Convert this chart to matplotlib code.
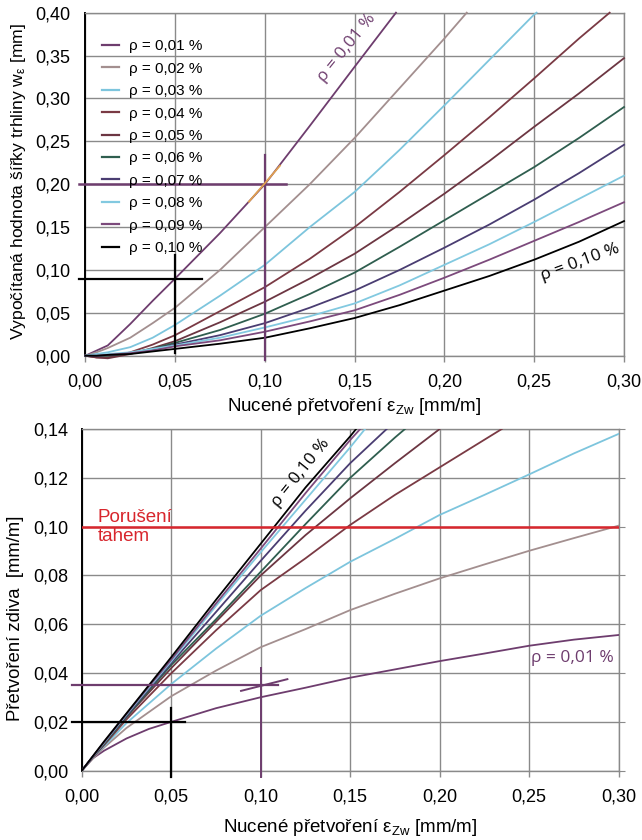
import numpy as np
import matplotlib
matplotlib.use('Agg')
import matplotlib.pyplot as plt
from matplotlib.ticker import FuncFormatter, MultipleLocator

plt.rcParams['font.family'] = ['Liberation Sans', 'DejaVu Sans']
plt.rcParams['mathtext.fontset'] = 'custom'
plt.rcParams['mathtext.rm'] = 'Liberation Sans'
plt.rcParams['mathtext.it'] = 'Liberation Sans:italic'
plt.rcParams['mathtext.default'] = 'regular'

nan = np.nan

# imposed strain eps_Zw [mm/m]
eps_grid = [0.0, 0.00625, 0.0125, 0.025, 0.0375, 0.05, 0.075, 0.10, 0.125, 0.15,
            0.175, 0.20, 0.225, 0.25, 0.275, 0.30]

rho_labels = ['0,01', '0,02', '0,03', '0,04', '0,05', '0,06', '0,07', '0,08', '0,09', '0,10']
rho_colors = ['#6e3d6e', '#a38f8f', '#7dc5dd', '#7a3a44', '#6c3642', '#2f5e4f',
              '#4a3d72', '#82c9e0', '#7c4a7c', '#000000']

# calculated crack width w_eps [mm]
w_001 = [0, 0.006, 0.012, 0.037, 0.064, 0.090, 0.143, 0.200, 0.268, 0.337, nan, nan, nan, nan, nan, nan]
w_002 = [0, 0.004, 0.009, 0.021, 0.038, 0.056, 0.100, 0.150, 0.200, 0.254, 0.312, 0.370, nan, nan, nan, nan]
w_003 = [0, 0.002, 0.004, 0.010, 0.021, 0.036, 0.070, 0.106, 0.150, 0.191, 0.240, 0.292, 0.345, 0.398, nan, nan]
w_004 = [0, -0.002, -0.002, 0.004, 0.013, 0.024, 0.052, 0.080, 0.113, 0.150, 0.191, 0.234, 0.278, 0.3235, 0.370, nan]
w_005 = [0, -0.002, -0.003, 0.002, 0.009, 0.017, 0.039, 0.063, 0.090, 0.119, 0.153, 0.189, 0.227, 0.267, 0.306, 0.347]
w_006 = [0, 0.000, 0.000, 0.003, 0.008, 0.015, 0.030, 0.049, 0.072, 0.097, 0.127, 0.158, 0.189, 0.220, 0.254, 0.290]
w_007 = [0, 0.000, 0.001, 0.003, 0.007, 0.013, 0.024, 0.038, 0.056, 0.076, 0.100, 0.126, 0.153, 0.182, 0.213, 0.246]
w_008 = [0, 0.001, 0.002, 0.004, 0.008, 0.012, 0.021, 0.033, 0.046, 0.061, 0.082, 0.106, 0.130, 0.156, 0.183, 0.210]
w_009 = [0, 0.000, 0.001, 0.003, 0.006, 0.011, 0.018, 0.028, 0.040, 0.053, 0.071, 0.091, 0.112, 0.134, 0.156, 0.179]
w_010 = [0, 0.000, 0.001, 0.002, 0.005, 0.008, 0.014, 0.021, 0.032, 0.044, 0.059, 0.076, 0.093, 0.112, 0.133, 0.157]
# strain at which a curve leaves the top of the crack-width plot (w = 0.40)
w_exit_eps = [0.173, 0.2124, 0.2513, 0.292, None, None, None, None, None, None]

# masonry strain [mm/m]
s_001 = [0, 0.0051, 0.0082, 0.0132, 0.0171, 0.020, 0.0256, 0.0301, 0.034, 0.0381, 0.0415, 0.0449, 0.048, 0.0512, 0.0537, 0.0556]
s_002 = [0, 0.0050, 0.0095, 0.0175, 0.024, 0.0305, 0.041, 0.0506, 0.058, 0.0658, 0.0725, 0.0788, 0.0845, 0.0901, 0.0953, 0.1004]
s_003 = [0, 0.0055, 0.010, 0.0195, 0.0275, 0.0355, 0.050, 0.0635, 0.0748, 0.0856, 0.095, 0.1048, 0.113, 0.1214, 0.130, 0.138]
s_004 = [0, 0.0055, 0.0105, 0.021, 0.0305, 0.0399, 0.0575, 0.074, 0.087, 0.1007, 0.113, 0.1243, nan, nan, nan, nan]
s_005 = [0, 0.0056, 0.011, 0.022, 0.032, 0.042, 0.061, 0.080, 0.0965, 0.1116, 0.126, 0.140, nan, nan, nan, nan]
s_006 = [0, 0.0057, 0.011, 0.022, 0.0328, 0.0433, 0.062, 0.0815, 0.101, 0.120, 0.1365, nan, nan, nan, nan, nan]
s_007 = [0, 0.0058, 0.0115, 0.0225, 0.0335, 0.0441, 0.065, 0.086, 0.1065, 0.126, nan, nan, nan, nan, nan, nan]
s_008 = [0, 0.0058, 0.0115, 0.023, 0.034, 0.0448, 0.0675, 0.0895, 0.111, 0.1325, nan, nan, nan, nan, nan, nan]
s_009 = [0, 0.0059, 0.0117, 0.0233, 0.0345, 0.0455, 0.0685, 0.091, 0.1137, 0.1355, nan, nan, nan, nan, nan, nan]
s_010 = [0, 0.0060, 0.012, 0.0235, 0.035, 0.0465, 0.070, 0.093, 0.116, 0.137, nan, nan, nan, nan, nan, nan]
# strain at which a curve leaves the top of the masonry-strain plot (0.14)
s_exit_eps = [None, None, None, 0.2347, None, 0.1806, 0.1704, 0.1583, 0.1556, 0.1533]

tensile_failure = 0.10

# read-off examples
ex_black_eps, ex_black_w = 0.05, 0.09
ex_purple_eps, ex_purple_w = 0.10, 0.20
ex2_black_eps, ex2_black_s = 0.05, 0.02
ex2_purple_eps, ex2_purple_s = 0.10, 0.035

W_TOP = 0.40
S_TOP = 0.14

w_series = [w_001, w_002, w_003, w_004, w_005, w_006, w_007, w_008, w_009, w_010]
s_series = [s_001, s_002, s_003, s_004, s_005, s_006, s_007, s_008, s_009, s_010]

comma = FuncFormatter(lambda v, _: f'{v:.2f}'.replace('.', ','))
GRID = '#8a8a8a'
PURPLE = '#6e3d6e'
RED = '#d8262d'
TICK_FS = 13
ANNOT_FONT = ['Open Sans', 'DejaVu Sans']


def curve(values, exit_eps, top):
    x = [e for e, v in zip(eps_grid, values) if not np.isnan(v)]
    y = [v for v in values if not np.isnan(v)]
    if exit_eps is not None:
        x.append(exit_eps)
        y.append(top)
    return x, y


def style_axes(ax, ymax, ystep):
    ax.set_xlim(0, 0.30)
    ax.set_ylim(0, ymax)
    ax.xaxis.set_major_locator(MultipleLocator(0.05))
    ax.yaxis.set_major_locator(MultipleLocator(ystep))
    ax.xaxis.set_major_formatter(comma)
    ax.yaxis.set_major_formatter(comma)
    ax.grid(True, color=GRID, lw=1.0)
    ax.set_axisbelow(True)
    for side in ('top', 'right', 'bottom'):
        ax.spines[side].set_color(GRID)
        ax.spines[side].set_linewidth(1.0)
    ax.spines['left'].set_color('black')
    ax.spines['left'].set_linewidth(1.4)
    ax.tick_params(axis='x', direction='out', length=4, color=GRID, width=1.0,
                   labelsize=TICK_FS, pad=9)
    ax.tick_params(axis='y', length=0, labelsize=TICK_FS, pad=11)


fig = plt.figure(figsize=(6.42, 8.4), dpi=100)
ax1 = fig.add_axes([0.1329, 0.5765, 0.8391, 0.4084])
ax2 = fig.add_axes([0.1273, 0.0825, 0.8364, 0.4068])

# ---- crack width ----
style_axes(ax1, W_TOP, 0.05)
for vals, ex, col, lab in zip(w_series, w_exit_eps, rho_colors, rho_labels):
    x, y = curve(vals, ex, W_TOP)
    ax1.plot(x, y, color=col, lw=1.3, label=f'ρ = {lab} %', clip_on=False, zorder=3)

ax1.plot([-0.0035, 0.0648], [ex_black_w, ex_black_w], color='black', lw=1.6, clip_on=False, zorder=4)
ax1.plot([ex_black_eps, ex_black_eps], [0.003, 0.117], color='black', lw=1.6, clip_on=False, zorder=4)
ax1.plot([-0.0035, 0.1118], [ex_purple_w, ex_purple_w], color=PURPLE, lw=1.8, clip_on=False, zorder=4)
ax1.plot([ex_purple_eps, ex_purple_eps], [-0.005, 0.234], color=PURPLE, lw=1.6, clip_on=False, zorder=4)
ax1.plot([0.0911, 0.1084], [0.1796, 0.2216], color='#e0a050', lw=1.3, zorder=5)

ax1.text(0.1457, 0.3588, 'ρ = 0,01 %', color=PURPLE, rotation=51,
         ha='center', va='center', fontsize=12.5, family=ANNOT_FONT)
ax1.text(0.2754, 0.1093, 'ρ = 0,10 %', color='black', rotation=20,
         ha='center', va='center', fontsize=12.5, family=ANNOT_FONT)

leg = ax1.legend(loc='upper left', bbox_to_anchor=(0.02, 0.94), frameon=False,
                 fontsize=11, handlelength=1.1, handletextpad=0.65, labelspacing=0.55,
                 borderaxespad=0)
for ln in leg.get_lines():
    ln.set_linewidth(1.6)

ax1.set_xlabel('Nucené přetvoření ε$_{Zw}$ [mm/m]', fontsize=13.5, labelpad=4)
ax1.set_ylabel('Vypočítaná hodnota šířky trhliny w$_{ε}$ [mm]', fontsize=12.6)
ax1.yaxis.set_label_coords(-0.106, 0.509)

# ---- masonry strain ----
style_axes(ax2, S_TOP, 0.02)
ax2.tick_params(axis='y', right=True, left=False, direction='out', length=4,
                color=GRID, pad=5.6)
for vals, ex, col in zip(s_series, s_exit_eps, rho_colors):
    x, y = curve(vals, ex, S_TOP)
    ax2.plot(x, y, color=col, lw=1.3, zorder=3)

ax2.axhline(tensile_failure, color=RED, lw=1.8, zorder=4)
ax2.text(0.009, tensile_failure - 0.0003, 'Porušení\ntahem', color=RED, fontsize=13.5,
         ha='left', va='center', linespacing=1.15)

ax2.plot([-0.0056, 0.0578], [ex2_black_s, ex2_black_s], color='black', lw=1.6, clip_on=False, zorder=4)
ax2.plot([ex2_black_eps, ex2_black_eps], [-0.0025, 0.0256], color='black', lw=1.6, clip_on=False, zorder=4)
ax2.plot([-0.0056, 0.1099], [ex2_purple_s, ex2_purple_s], color=PURPLE, lw=1.6, clip_on=False, zorder=4)
ax2.plot([ex2_purple_eps, ex2_purple_eps], [-0.0025, 0.042], color=PURPLE, lw=1.4, clip_on=False, zorder=4)
ax2.plot([0.089, 0.1149], [0.0327, 0.0375], color=PURPLE, lw=1.4, zorder=4)

ax2.text(0.1224, 0.1219, 'ρ = 0,10 %', color='black', rotation=51,
         ha='center', va='center', fontsize=12.5, family=ANNOT_FONT)
ax2.text(0.2744, 0.046, 'ρ = 0,01 %', color=PURPLE,
         ha='center', va='center', fontsize=12.5, family=ANNOT_FONT)

ax2.set_xlabel('Nucené přetvoření ε$_{Zw}$ [mm/m]', fontsize=13.5, labelpad=8)
ax2.set_ylabel('Přetvoření zdiva  [mm/m]', fontsize=13.3)
ax2.yaxis.set_label_coords(-0.107, 0.447)

fig.savefig('out.png', dpi=100)
